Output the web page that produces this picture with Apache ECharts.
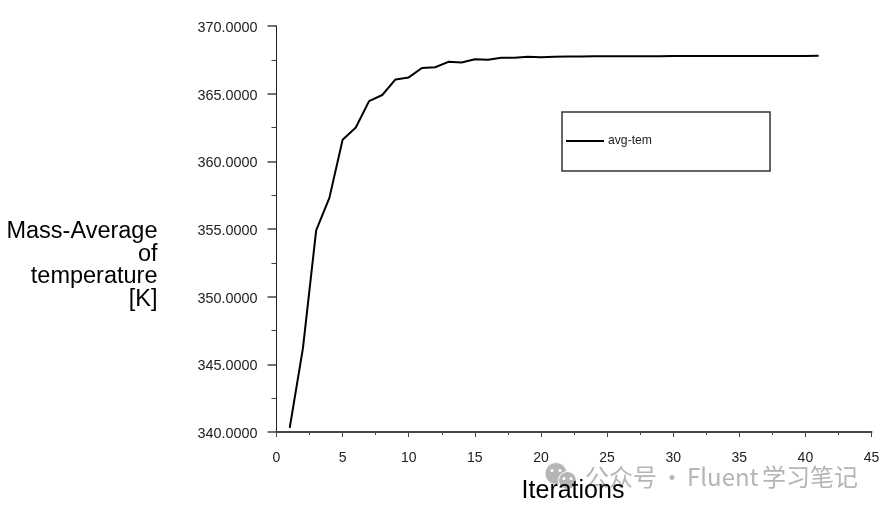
<!DOCTYPE html>
<html>
<head>
<meta charset="utf-8">
<title>avg-tem</title>
<style>
html, body { margin: 0; padding: 0; background: #fff; }
#chart { width: 887px; height: 511px; }
</style>
<script src="https://cdn.jsdelivr.net/npm/echarts@6/dist/echarts.min.js"></script>
</head>
<body>
<div id="chart"></div>
<script>
var iterations = [1, 2, 3, 4, 5, 6, 7, 8, 9, 10, 11, 12, 13, 14, 15, 16, 17, 18, 19, 20, 21,
    22, 23, 24, 25, 26, 27, 28, 29, 30, 31, 32, 33, 34, 35, 36, 37, 38, 39, 40, 41];
var avgTem = [340.3, 346.2, 354.9, 357.3, 361.6, 362.5, 364.45, 364.9, 366.05, 366.2, 366.9,
    366.95, 367.35, 367.3, 367.55, 367.5, 367.65, 367.65, 367.72, 367.7, 367.72,
    367.74, 367.74, 367.76, 367.76, 367.77, 367.77, 367.77, 367.77, 367.78, 367.78,
    367.78, 367.78, 367.78, 367.79, 367.79, 367.79, 367.79, 367.79, 367.79, 367.8];

var font = '"Liberation Sans", Arial, sans-serif';
var cjkFont = '"Noto Sans CJK SC", "Noto Sans", sans-serif';
var myChart = echarts.init(document.getElementById('chart'), null, { renderer: 'canvas' });

// wechat style mark in the watermark, two bubbles with eyes
var markColor = '#b5b5b5';
function bubble(cx, cy, r) {
    return { type: 'circle', shape: { cx: cx, cy: cy, r: r }, style: { fill: markColor, stroke: '#fff', lineWidth: 1 } };
}
function eye(cx, cy) {
    return { type: 'circle', shape: { cx: cx, cy: cy, r: 1.5 }, style: { fill: '#fff' } };
}
function mark(text, x) {
    return {
        type: 'text',
        x: x,
        y: 465,
        style: { text: text, fontFamily: cjkFont, fontSize: 24, fill: markColor }
    };
}

var option = {
    animation: false,
    backgroundColor: '#fff',
    grid: { left: 276.5, right: 15.5, top: 26, bottom: 79 },
    legend: {
        left: 562,
        top: 112,
        orient: 'vertical',
        data: ['avg-tem'],
        itemWidth: 38,
        itemHeight: 12,
        itemGap: 0,
        itemStyle: { opacity: 0 },
        padding: [23, 118, 24, 3],
        borderColor: '#333',
        borderWidth: 1.5,
        borderRadius: 0,
        textStyle: { fontFamily: font, fontSize: 12.2, color: '#222', padding: [0, 0, 0, -1] }
    },
    xAxis: {
        type: 'value',
        min: 0,
        max: 45,
        interval: 5,
        name: 'Iterations',
        nameLocation: 'middle',
        nameGap: 47,
        nameTextStyle: { fontFamily: font, fontSize: 25, color: '#000', padding: [0, 2, 0, 0] },
        axisLine: { onZero: false, lineStyle: { color: '#444', width: 2 } },
        axisTick: { length: 5, lineStyle: { color: '#444', width: 1 } },
        minorTick: { show: true, splitNumber: 2, length: 3, lineStyle: { color: '#444', width: 1 } },
        axisLabel: { fontFamily: font, fontSize: 14, color: '#222', margin: 19 },
        splitLine: { show: false }
    },
    yAxis: {
        type: 'value',
        min: 340,
        max: 370,
        interval: 5,
        axisLine: { show: true, onZero: false, lineStyle: { color: '#222', width: 1 } },
        axisTick: { length: 9, lineStyle: { color: '#444', width: 1.5 } },
        minorTick: { show: true, splitNumber: 2, length: 5, lineStyle: { color: '#444', width: 1 } },
        axisLabel: {
            fontFamily: font, fontSize: 14.4, color: '#222', margin: 19,
            verticalAlign: 'top',
            lineHeight: 4,
            formatter: function (val) { return val.toFixed(4); }
        },
        splitLine: { show: false }
    },
    series: [
        {
            name: 'avg-tem',
            type: 'line',
            symbol: 'none',
            data: iterations.map(function (it, i) { return [it, avgTem[i]]; }),
            lineStyle: { color: '#000', width: 2 },
            itemStyle: { color: '#000' }
        }
    ],
    graphic: [
        {
            type: 'text',
            x: 157.5,
            y: 220,
            style: {
                text: 'Mass-Average\nof\ntemperature\n[K]',
                fontFamily: font,
                fontSize: 23.5,
                lineHeight: 22.8,
                fill: '#000',
                align: 'right'
            }
        },
        bubble(556, 473.5, 11),
        eye(552, 470.5), eye(560, 470.5),
        bubble(567.5, 480.5, 9),
        eye(564, 478.5), eye(571, 478.5),
        mark('公众号', 585),
        mark('·', 660),
        mark('Fluent', 687),
        mark('学习笔记', 762)
    ]
};

myChart.setOption(option);
</script>
</body>
</html>
